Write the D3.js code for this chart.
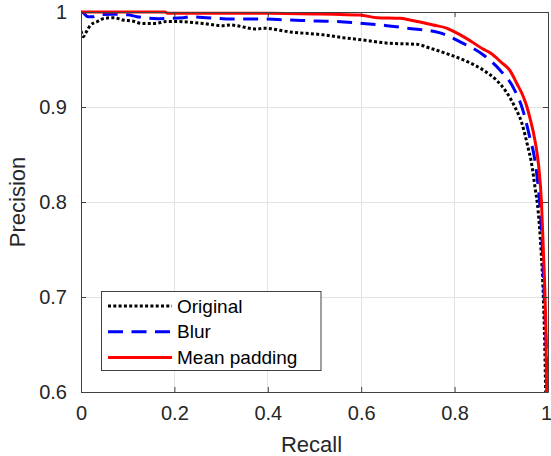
<!DOCTYPE html>
<html>
<head>
<meta charset="utf-8">
<script src="https://cdn.jsdelivr.net/npm/d3@7"></script>
<style>
body { margin: 0; background: #fff; }
svg { display: block; font-family: "Liberation Sans", Arial, Helvetica, sans-serif; }
</style>
</head>
<body>
<svg id="chart" width="551" height="456"></svg>
<script>
// ---- data ----
const xTicks = [0, 0.2, 0.4, 0.6, 0.8, 1];
const xTickLabels = ["0", "0.2", "0.4", "0.6", "0.8", "1"];
const yTicks = [0.6, 0.7, 0.8, 0.9, 1];
const yTickLabels = ["0.6", "0.7", "0.8", "0.9", "1"];
const seriesNames = ["Original", "Blur", "Mean padding"];

const originalRecall = [0, 0.005, 0.01, 0.02, 0.035, 0.05, 0.07, 0.09, 0.11, 0.13, 0.158, 0.184, 0.205, 0.238, 0.261, 0.304, 0.319, 0.377, 0.39, 0.448, 0.518, 0.561, 0.604, 0.662, 0.719, 0.747, 0.79, 0.826, 0.861, 0.89, 0.912, 0.929, 0.944, 0.955, 0.966, 0.972, 0.979, 0.985, 0.99, 0.993, 0.995];
const originalPrecision = [0.98, 0.974, 0.978, 0.986, 0.99, 0.9933, 0.994, 0.9916, 0.9905, 0.988, 0.988, 0.99, 0.99, 0.989, 0.988, 0.9856, 0.9863, 0.982, 0.983, 0.979, 0.976, 0.973, 0.9705, 0.967, 0.966, 0.962, 0.955, 0.948, 0.939, 0.928, 0.915, 0.9, 0.883, 0.862, 0.837, 0.816, 0.79, 0.75, 0.7, 0.65, 0.6];

const blurRecall = [0, 0.005, 0.015, 0.025, 0.04, 0.066, 0.1, 0.12, 0.165, 0.22, 0.233, 0.325, 0.383, 0.448, 0.505, 0.548, 0.604, 0.655, 0.698, 0.769, 0.81, 0.861, 0.897, 0.925, 0.946, 0.961, 0.972, 0.977, 0.982, 0.988, 0.992, 0.996, 0.999];
const blurPrecision = [1, 0.999, 0.995, 0.995, 0.997, 0.9976, 0.997, 0.995, 0.993, 0.994, 0.995, 0.9926, 0.9926, 0.9916, 0.9905, 0.99, 0.988, 0.9856, 0.983, 0.978, 0.969, 0.955, 0.939, 0.921, 0.897, 0.868, 0.844, 0.825, 0.8, 0.75, 0.7, 0.65, 0.6];

const meanRecall = [0, 0.18, 0.185, 0.4, 0.5, 0.54, 0.597, 0.634, 0.683, 0.704, 0.72, 0.754, 0.783, 0.8, 0.826, 0.861, 0.876, 0.9, 0.919, 0.933, 0.947, 0.955, 0.961, 0.972, 0.98, 0.986, 0.99, 0.9936, 0.996, 0.997];
const meanPrecision = [1, 1, 0.9988, 0.9986, 0.998, 0.9976, 0.9968, 0.994, 0.9933, 0.9916, 0.99, 0.9863, 0.983, 0.979, 0.972, 0.961, 0.957, 0.947, 0.938, 0.925, 0.911, 0.9, 0.889, 0.865, 0.838, 0.8, 0.75, 0.7, 0.65, 0.6];

// ---- layout ----
const W = 551, H = 456;
const mLeft = 81, mRight = 548, mTop = 12, mBottom = 392;
const svg = d3.select("#chart");

const x = d3.scaleLinear().domain([0, 1]).range([mLeft, mRight]);
const y = d3.scaleLinear().domain([0.6, 1]).range([mBottom, mTop]);

const axisColor = "#404040";
const textColor = "#262626";
const gridColor = "#e3e3e3";

// grid
const grid = svg.append("g");
grid.selectAll("line.gx").data(xTicks.slice(1, -1)).join("line")
  .attr("x1", d => x(d)).attr("x2", d => x(d))
  .attr("y1", mTop).attr("y2", mBottom)
  .attr("stroke", gridColor).attr("stroke-width", 1)
  .attr("shape-rendering", "crispEdges");
grid.selectAll("line.gy").data(yTicks.slice(1, -1)).join("line")
  .attr("y1", d => y(d)).attr("y2", d => y(d))
  .attr("x1", mLeft).attr("x2", mRight)
  .attr("stroke", gridColor).attr("stroke-width", 1)
  .attr("shape-rendering", "crispEdges");

// clip
svg.append("clipPath").attr("id", "clip").append("rect")
  .attr("x", mLeft).attr("y", mTop - 2).attr("width", mRight - mLeft).attr("height", mBottom - mTop + 2);

const line = d3.line().curve(d3.curveMonotoneX).x(d => x(d[0])).y(d => y(d[1]));
const zip = (a, b) => a.map((v, i) => [v, b[i]]);

const series = [
  { name: seriesNames[0], data: zip(originalRecall, originalPrecision), color: "#000000", dash: "3,2.3" },
  { name: seriesNames[1], data: zip(blurRecall, blurPrecision), color: "#0000ff", dash: "15,8.5" },
  { name: seriesNames[2], data: zip(meanRecall, meanPrecision), color: "#ff0000", dash: null }
];

const plot = svg.append("g").attr("clip-path", "url(#clip)");
series.forEach(s => {
  plot.append("path").datum(s.data)
    .attr("d", line)
    .attr("fill", "none")
    .attr("stroke", s.color)
    .attr("stroke-width", 3)
    .attr("stroke-linejoin", "round")
    .attr("stroke-dasharray", s.dash);
});

// axes
const xAxisB = d3.axisBottom(x).tickValues(xTicks).tickFormat((d, i) => xTickLabels[i]).tickSizeInner(-5).tickSizeOuter(0).tickPadding(14);
const yAxisL = d3.axisLeft(y).tickValues(yTicks).tickFormat((d, i) => yTickLabels[i]).tickSizeInner(-5).tickSizeOuter(0).tickPadding(14);
const xAxisT = d3.axisTop(x).tickValues(xTicks).tickFormat("").tickSizeInner(-5).tickSizeOuter(0);
const yAxisR = d3.axisRight(y).tickValues(yTicks).tickFormat("").tickSizeInner(-5).tickSizeOuter(0);

function styleAxis(g) {
  g.select(".domain").attr("stroke", axisColor).attr("stroke-width", 1);
  g.selectAll(".tick line").attr("stroke", axisColor).attr("stroke-width", 1);
  g.selectAll(".tick text").attr("fill", textColor).style("font-size", "20px");
  g.attr("font-family", null).attr("font-size", null);
}
svg.append("g").attr("transform", `translate(0,${mBottom})`).call(xAxisB).call(styleAxis)
  .selectAll(".tick text").filter(d => d === 1).attr("dx", -2);
svg.append("g").attr("transform", `translate(${mLeft},0)`).call(yAxisL).call(styleAxis);
svg.append("g").attr("transform", `translate(0,${mTop})`).call(xAxisT).call(styleAxis);
svg.append("g").attr("transform", `translate(${mRight},0)`).call(yAxisR).call(styleAxis);

// axis labels
svg.append("text").attr("x", (mLeft + mRight) / 2 - 3).attr("y", 452)
  .attr("text-anchor", "middle").attr("fill", textColor).style("font-size", "22px").text("Recall");
svg.append("text").attr("transform", `translate(25,${(mTop + mBottom) / 2}) rotate(-90)`)
  .attr("text-anchor", "middle").attr("fill", textColor).style("font-size", "22px").text("Precision");

// legend
const lg = svg.append("g");
lg.append("rect").attr("x", 101.5).attr("y", 291.5).attr("width", 219.5).attr("height", 79)
  .attr("fill", "#fff").attr("stroke", axisColor).attr("stroke-width", 1);
series.forEach((s, i) => {
  const cy = 306 + i * 25.7;
  lg.append("line").attr("x1", 108).attr("x2", 172).attr("y1", cy).attr("y2", cy)
    .attr("stroke", s.color).attr("stroke-width", 3).attr("stroke-dasharray", s.dash);
  lg.append("text").attr("x", 177).attr("y", cy).attr("dy", "0.35em")
    .attr("fill", "#000").style("font-size", "19px").text(s.name);
});
</script>
</body>
</html>
